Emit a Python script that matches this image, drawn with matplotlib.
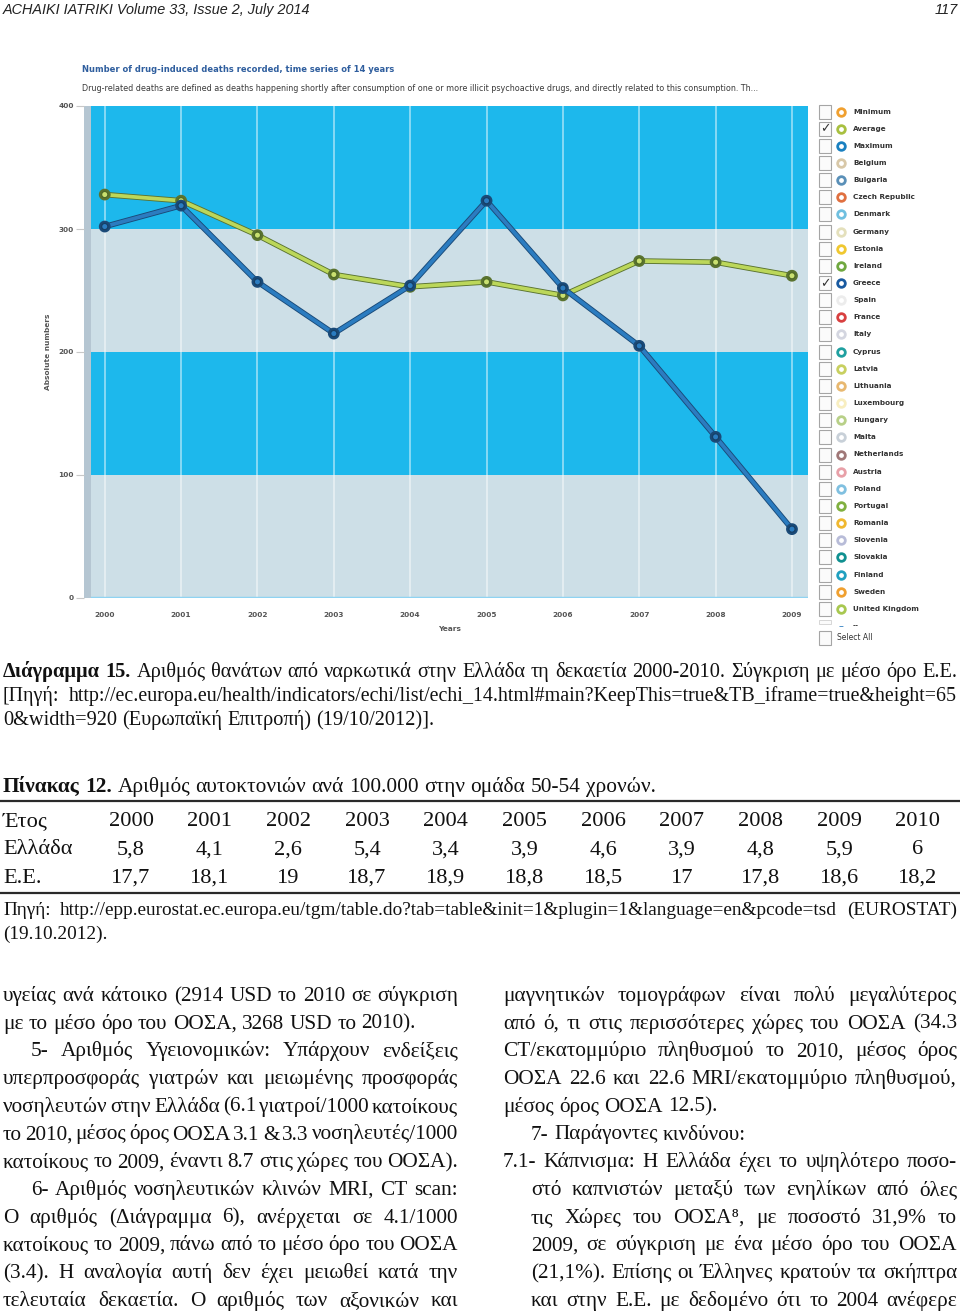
import matplotlib
matplotlib.use('Agg')
import matplotlib.pyplot as plt
import matplotlib.patheffects as pe
from matplotlib import font_manager as fm
from matplotlib.patches import Rectangle

# chart data
years = list(range(2000, 2010))
greece = [302, 319, 257, 215, 254, 323, 252, 205, 131, 56]
eu_average = [328, 323, 295, 263, 253, 257, 246, 274, 273, 262]

legend_names = ['Minimum', 'Average', 'Maximum', 'Belgium', 'Bulgaria', 'Czech Republic',
                'Denmark', 'Germany', 'Estonia', 'Ireland', 'Greece', 'Spain', 'France',
                'Italy', 'Cyprus', 'Latvia', 'Lithuania', 'Luxembourg', 'Hungary', 'Malta',
                'Netherlands', 'Austria', 'Poland', 'Portugal', 'Romania', 'Slovenia',
                'Slovakia', 'Finland', 'Sweden', 'United Kingdom']
legend_colors = ['#f0a030', '#a8c040', '#1a80c0', '#d8c8a8', '#5a90b8', '#e07040',
                 '#70c0e0', '#e4e0bc', '#f0c830', '#70a840', '#1a5aa0', '#ececec', '#d84040',
                 '#d4d6e0', '#20a0a0', '#c8d060', '#e8b870', '#f8eec0', '#b8d088', '#c8d0d8',
                 '#a07878', '#e8a0a8', '#80c0e0', '#80b040', '#f0b830', '#b8bcd8',
                 '#109090', '#20a0c0', '#f0a030', '#a8c850']
legend_checked = ['Average', 'Greece']

tbl_years = ['2000', '2001', '2002', '2003', '2004', '2005', '2006', '2007', '2008', '2009', '2010']
tbl_greece = ['5,8', '4,1', '2,6', '5,4', '3,4', '3,9', '4,6', '3,9', '4,8', '5,9', '6']
tbl_eu = ['17,7', '18,1', '19', '18,7', '18,9', '18,8', '18,5', '17', '17,8', '18,6', '18,2']
tbl_rows = [('Έτος', tbl_years), ('Ελλάδα', tbl_greece), ('Ε.Ε.', tbl_eu)]

chart_title = 'Number of drug-induced deaths recorded, time series of 14 years'
chart_sub = ('Drug-related deaths are defined as deaths happening shortly after consumption '
             'of one or more illicit psychoactive drugs, and directly related to this consumption. Th...')

header = 'ACHAIKI IATRIKI Volume 33, Issue 2, July 2014'
page_no = '117'

caption = ['Διάγραμμα 15. Αριθμός θανάτων από ναρκωτικά στην Ελλάδα τη δεκαετία 2000-2010. Σύγκριση με μέσο όρο Ε.Ε.',
           '[Πηγή: http://ec.europa.eu/health/indicators/echi/list/echi_14.html#main?KeepThis=true&TB_iframe=true&height=65',
           '0&width=920 (Ευρωπαϊκή Επιτροπή) (19/10/2012)].']
table_title = 'Πίνακας 12. Αριθμός αυτοκτονιών ανά 100.000 στην ομάδα 50-54 χρονών.'
source = ['Πηγή: http://epp.eurostat.ec.europa.eu/tgm/table.do?tab=table&init=1&plugin=1&language=en&pcode=tsd (EUROSTAT)',
          '(19.10.2012).']

left_col = ['υγείας ανά κάτοικο (2914 USD το 2010 σε σύγκριση',
            'με το μέσο όρο του ΟΟΣΑ, 3268 USD το 2010).',
            '5- Αριθμός Υγειονομικών: Υπάρχουν ενδείξεις',
            'υπερπροσφοράς γιατρών και μειωμένης προσφοράς',
            'νοσηλευτών στην Ελλάδα (6.1 γιατροί/1000 κατοίκους',
            'το 2010, μέσος όρος ΟΟΣΑ 3.1 & 3.3 νοσηλευτές/1000',
            'κατοίκους το 2009, έναντι 8.7 στις χώρες του ΟΟΣΑ).',
            '6- Αριθμός νοσηλευτικών κλινών MRI, CT scan:',
            'Ο αριθμός (Διάγραμμα 6), ανέρχεται σε 4.1/1000',
            'κατοίκους το 2009, πάνω από το μέσο όρο του ΟΟΣΑ',
            '(3.4). Η αναλογία αυτή δεν έχει μειωθεί κατά την',
            'τελευταία δεκαετία. Ο αριθμός των αξονικών και']
right_col = ['μαγνητικών τομογράφων είναι πολύ μεγαλύτερος',
             'από ό, τι στις περισσότερες χώρες του ΟΟΣΑ (34.3',
             'CT/εκατομμύριο πληθυσμού το 2010, μέσος όρος',
             'ΟΟΣΑ 22.6 και 22.6 MRI/εκατομμύριο πληθυσμού,',
             'μέσος όρος ΟΟΣΑ 12.5).',
             '7- Παράγοντες κινδύνου:',
             '7.1- Κάπνισμα: Η Ελλάδα έχει το υψηλότερο ποσο-',
             'στό καπνιστών μεταξύ των ενηλίκων από όλες',
             'τις Χώρες του ΟΟΣΑ⁸, με ποσοστό 31,9% το',
             '2009, σε σύγκριση με ένα μέσο όρο του ΟΟΣΑ',
             '(21,1%). Επίσης οι Έλληνες κρατούν τα σκήπτρα',
             'και στην Ε.Ε. με δεδομένο ότι το 2004 ανέφερε']

have = {f.name for f in fm.fontManager.ttflist}
SERIF = ['Liberation Serif', 'DejaVu Serif']
NARROW = 'Liberation Sans Narrow' if 'Liberation Sans Narrow' in have else 'Liberation Sans'
SANS = 'DejaVu Sans'

fig = plt.figure(figsize=(9.6, 13.14), dpi=100)
page = fig.add_axes([0, 0, 1, 1], zorder=0)
page.set_xlim(0, 960)
page.set_ylim(1314, 0)
page.axis('off')
R = fig.canvas.get_renderer()


def width(t):
    return t.get_window_extent(R).width


def fit(t, target):
    for _ in range(2):
        t.set_fontsize(t.get_fontsize() * target / width(t))
    return t


def natural(text, size, bold=0, space=0.25):
    arts = [page.text(0, 0, s, fontsize=size, family=SERIF,
                      weight='bold' if i < bold else 'normal')
            for i, s in enumerate(text.split(' '))]
    tot = sum(width(a) for a in arts) + (len(arts) - 1) * size * 100 / 72 * space
    for a in arts:
        a.remove()
    return tot


def put_line(text, x0, x1, y, size, justify=True, bold=0):
    words = text.split(' ')
    arts = [page.text(x0, y, s, fontsize=size, family=SERIF, va='baseline', color='#111',
                      weight='bold' if i < bold else 'normal')
            for i, s in enumerate(words)]
    ws = [width(a) for a in arts]
    gap = size * 100 / 72 * 0.25
    if justify and len(arts) > 1:
        gap = (x1 - x0 - sum(ws)) / (len(arts) - 1)
    x = x0
    for a, wi in zip(arts, ws):
        a.set_x(x)
        x += wi + gap


# ---- page header
fit(page.text(3, 14, header, fontsize=11, family=NARROW, style='italic', va='baseline', color='#222'), 305)
page.text(958, 14, page_no, fontsize=10.5, family=NARROW, style='italic', ha='right', va='baseline', color='#222')

# ---- chart titles
fit(page.text(82, 72, chart_title, fontsize=7, family=SANS, weight='bold', va='baseline', color='#2f5e9e'), 311)
fit(page.text(82, 91, chart_sub, fontsize=6, family=SANS, va='baseline', color='#3a3a3a'), 673)

# ---- chart
def fx(px):
    return px / 960


def fy(py):
    return 1 - py / 1314


ax = fig.add_axes([fx(91), fy(598), (808 - 91) / 960, (598 - 106) / 1314], zorder=1)
ax.set_xlim(1999.82, 2009.21)
ax.set_ylim(0, 400)
for lo in range(0, 400, 100):
    ax.axhspan(lo, lo + 100, color='#1db8ec' if (lo // 100) % 2 else '#cddfe7', lw=0, zorder=0)
for yr in years:
    ax.axvline(yr, color='white', alpha=0.55, lw=1.2, zorder=1)
ax.axhline(0, color='#8fd3f2', lw=2.5, zorder=2)

ax.plot(years, eu_average, color='#bcd75a', lw=2.7, marker='o', ms=4.5, mfc='#c9e070',
        mec='#4f6a25', mew=0.9, zorder=3,
        path_effects=[pe.Stroke(linewidth=4.0, foreground='#5a7330'), pe.Normal()])
ax.plot(years, greece, color='#2b7cc0', lw=2.7, marker='o', ms=4.5, mfc='#2b7cc0',
        mec='#163f66', mew=0.9, zorder=4,
        path_effects=[pe.Stroke(linewidth=4.0, foreground='#1a4a78'), pe.Normal()])

for s in ax.spines.values():
    s.set_visible(False)
ax.spines['left'].set_position(('outward', 5))
ax.add_patch(Rectangle((-7 / 717, 0), 7 / 717, 1, transform=ax.transAxes, clip_on=False,
                       fc='#b5c6d2', ec='none'))
ax.set_yticks([0, 100, 200, 300, 400])
ax.tick_params(axis='y', length=6, color='#c8c8c8', pad=1.5, labelsize=5.3,
               labelcolor='#555')
ax.set_xticks(years)
ax.tick_params(axis='x', length=0, pad=10, labelsize=5.3, labelcolor='#555')
for t in ax.get_xticklabels() + ax.get_yticklabels():
    t.set_fontweight('bold')
    t.set_family(SANS)
ax.set_xlabel('Years', fontsize=5.3, weight='bold', color='#555', family=SANS, labelpad=6)
ax.set_ylabel('Absolute numbers', fontsize=5.3, weight='bold', color='#555', family=SANS, labelpad=5)

# ---- legend with check boxes
leg_size = None
for i, (name, col) in enumerate(zip(legend_names, legend_colors)):
    y = 111.5 + i * 17.15
    page.add_patch(Rectangle((819, y - 7), 12, 14, fc='#fbfbfb', ec='#a5a5a5', lw=0.8))
    if name in legend_checked:
        page.text(825, y + 0.5, '✓', fontsize=9, family=SANS, ha='center', va='center', color='#333')
    page.plot(840.5, y, 'o', ms=5.5, mfc='white', mec=col, mew=2)
    t = page.text(853, y, name, fontsize=5.5, family=SANS, weight='bold', va='center', color='#333')
    if name == 'United Kingdom':
        fit(t, 67)
        leg_size = t.get_fontsize()
for t in page.texts:
    if t.get_text() in legend_names:
        t.set_fontsize(leg_size)
y_more = 111.5 + 30 * 17.15
page.add_patch(Rectangle((819, y_more - 6), 12, 4, fc='#fbfbfb', ec='#d0d0d0', lw=0.6))
page.text(841, y_more, '–', fontsize=7, family=SANS, ha='center', va='center', color='#2b7cc0')
page.text(853, y_more, '--', fontsize=leg_size, family=SANS, weight='bold', va='center', color='#333')
y_sel = y_more + 12
page.add_patch(Rectangle((819, y_sel - 7), 12, 14, fc='#fbfbfb', ec='#a5a5a5', lw=0.8))
page.text(837, y_sel, 'Select All', fontsize=leg_size * 1.05, family=SANS, va='center', color='#333')

# ---- caption
cap_size = 14 * 954 / natural(caption[0], 14, bold=2)
cap2_size = 14 * 952 / natural(caption[1], 14)
put_line(caption[0], 3, 957, 677, cap_size, bold=2)
put_line(caption[1], 3, 957, 701, cap2_size)
put_line(caption[2], 3, 957, 725, cap_size, justify=False)

# ---- table
put_line(table_title, 3, 957, 792, cap_size * 1.05, justify=False, bold=2)
page.axhline(801, color='#2a2a2a', lw=1.6)
col_x = [131 + k * 78.7 for k in range(len(tbl_years))]
for r, (label, vals) in enumerate(tbl_rows):
    yb = 826 + r * 28.5
    page.text(3, yb, label, fontsize=cap_size * 1.1, family=SERIF, va='baseline', color='#111')
    for cx, v in zip(col_x, vals):
        page.text(cx, yb, v, fontsize=cap_size * 1.1, family=SERIF, ha='center', va='baseline', color='#111')
page.axhline(893, color='#2a2a2a', lw=1.6)
src_size = 14 * 950 / natural(source[0], 14)
put_line(source[0], 3, 957, 915, src_size)
put_line(source[1], 3, 957, 939, src_size, justify=False)

# ---- two text columns: size chosen so the tightest line still keeps a thin space
left_indent = {2, 7}
left_ragged = {1}
right_indent = {5, 7, 8, 9, 10, 11}
right_ragged = {4, 5}
fits = []
for i, line in enumerate(left_col):
    if i not in left_ragged:
        x0 = 31 if i in left_indent else 3
        fits.append(14.5 * (458 - x0) / natural(line, 14.5, space=0.12))
for i, line in enumerate(right_col):
    if i not in right_ragged:
        x0 = 531 if i in right_indent else 503
        fits.append(14.5 * (957 - x0) / natural(line, 14.5, space=0.12))
body = min(fits)
for i, line in enumerate(left_col):
    x0 = 31 if i in left_indent else 3
    put_line(line, x0, 458, 1001 + i * 27.7, body, justify=i not in left_ragged)
for i, line in enumerate(right_col):
    x0 = 531 if i in right_indent else 503
    put_line(line, x0, 957, 1001 + i * 27.7, body, justify=i not in right_ragged)

fig.savefig('out.png', dpi=100, facecolor='white')
